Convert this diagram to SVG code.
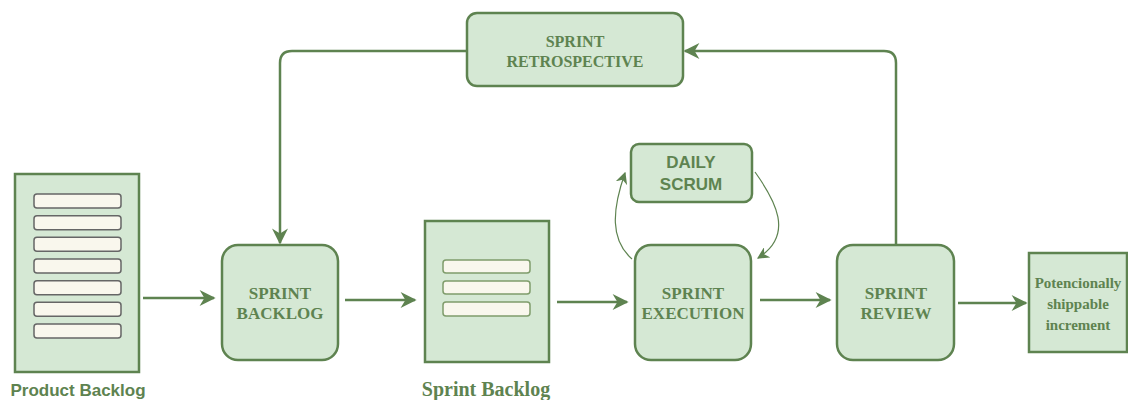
<svg xmlns="http://www.w3.org/2000/svg" width="1128" height="400" viewBox="0 0 1128 400">
<defs>
<style>
.box{fill:#d5e8d4;stroke:#5e8350;stroke-width:2.5}
.bar{fill:#f9f7ed;stroke:#666;stroke-width:1.5}
.bar2{fill:#f9f7ed;stroke:#7f9c6b;stroke-width:1.5}
.ser{font-family:"Liberation Serif",serif;font-weight:bold;fill:#5e8350;text-anchor:middle}
.san{font-family:"Liberation Sans",sans-serif;font-weight:bold;fill:#5e8350;text-anchor:middle}
.con{fill:none;stroke:#5e8350;stroke-width:2.5}
.thin{fill:none;stroke:#5e8350;stroke-width:1.2}
</style>
<marker id="ah" viewBox="0 0 10 10" refX="9" refY="5" markerWidth="18" markerHeight="16" markerUnits="userSpaceOnUse" orient="auto">
<path d="M0,0 L10,5 L0,10 L3,5 Z" fill="#5e8350"/>
</marker>
<marker id="ah2" viewBox="0 0 10 10" refX="9" refY="5" markerWidth="12" markerHeight="12" markerUnits="userSpaceOnUse" orient="auto">
<path d="M0,0 L10,5 L0,10 L3,5 Z" fill="#5e8350"/>
</marker>
</defs>
<g id="connectors">
<path class="con" d="M143,298 L214,298" marker-end="url(#ah)"/>
<path class="con" d="M345,300 L415,300" marker-end="url(#ah)"/>
<path class="con" d="M557,302 L627,302" marker-end="url(#ah)"/>
<path class="con" d="M760,300 L830,300" marker-end="url(#ah)"/>
<path class="con" d="M958,303 L1026,303" marker-end="url(#ah)"/>
<path class="con" d="M896,245 L896,63 Q896,51 884,51 L685,51" marker-end="url(#ah)"/>
<path class="con" d="M467,51 L292,51 Q280,51 280,63 L280,243" marker-end="url(#ah)"/>
<path class="thin" d="M632,259 C610,240 612,210 625,173" marker-end="url(#ah2)"/>
<path class="thin" d="M755,172 C775,200 795,235 758,258" marker-end="url(#ah2)"/>
</g>
<g id="product-backlog">
<rect class="box" x="15" y="174" width="124" height="198"/>
<rect class="bar" x="34" y="194" width="87" height="14" rx="3"/>
<rect class="bar" x="34" y="215.7" width="87" height="14" rx="3"/>
<rect class="bar" x="34" y="237.3" width="87" height="14" rx="3"/>
<rect class="bar" x="34" y="259" width="87" height="14" rx="3"/>
<rect class="bar" x="34" y="280.7" width="87" height="14" rx="3"/>
<rect class="bar" x="34" y="302.3" width="87" height="14" rx="3"/>
<rect class="bar" x="34" y="324" width="87" height="14" rx="3"/>
<text class="san" x="78" y="396" font-size="17">Product Backlog</text>
</g>
<g id="sprint-backlog-node">
<rect class="box" x="222" y="245" width="116" height="115" rx="16"/>
<text class="ser" x="280" y="299" font-size="17">SPRINT</text>
<text class="ser" x="280" y="319" font-size="17">BACKLOG</text>
</g>
<g id="sprint-backlog-doc">
<rect class="box" x="425" y="221" width="124" height="141"/>
<rect class="bar2" x="443" y="260" width="87" height="13" rx="3"/>
<rect class="bar2" x="443" y="281" width="87" height="13" rx="3"/>
<rect class="bar2" x="443" y="302" width="87" height="14" rx="3"/>
<text class="ser" x="486" y="396" font-size="20">Sprint Backlog</text>
</g>
<g id="sprint-execution">
<rect class="box" x="635" y="245" width="116" height="115" rx="16"/>
<text class="ser" x="693" y="299" font-size="17">SPRINT</text>
<text class="ser" x="693" y="319" font-size="17">EXECUTION</text>
</g>
<g id="daily-scrum">
<rect class="box" x="631" y="144" width="121" height="58" rx="8"/>
<text class="san" x="691" y="168" font-size="17">DAILY</text>
<text class="san" x="691" y="190" font-size="17">SCRUM</text>
</g>
<g id="sprint-review">
<rect class="box" x="837" y="245" width="117" height="115" rx="16"/>
<text class="ser" x="896" y="299" font-size="17">SPRINT</text>
<text class="ser" x="896" y="319" font-size="17">REVIEW</text>
</g>
<g id="sprint-retrospective">
<rect class="box" x="467" y="13" width="216" height="73" rx="10"/>
<text class="ser" x="575" y="47" font-size="16">SPRINT</text>
<text class="ser" x="575" y="67" font-size="16">RETROSPECTIVE</text>
</g>
<g id="increment">
<rect class="box" x="1029" y="253" width="98" height="99"/>
<text class="ser" x="1078" y="288" font-size="15">Potencionally</text>
<text class="ser" x="1078" y="309" font-size="15">shippable</text>
<text class="ser" x="1078" y="330" font-size="15">increment</text>
</g>
</svg>
